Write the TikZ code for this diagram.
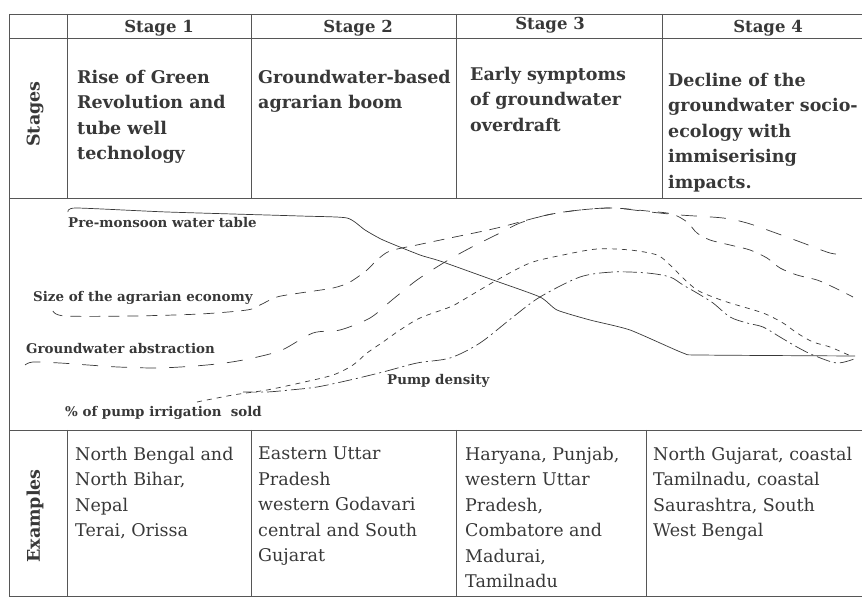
\documentclass[tikz,border=0pt]{standalone}
\usepackage{fontspec}
\setmainfont{DejaVu Serif}
\definecolor{ink}{gray}{0.22}

\begin{document}
\begin{tikzpicture}[x=1pt,y=-1pt,
    rule/.style={draw=ink!85,line width=0.9pt},
    curve/.style={draw=ink,line width=0.7pt},
    head/.style={font=\bfseries\fontsize{16.5}{18}\selectfont,text=ink,inner sep=0pt,anchor=base},
    stagetext/.style={font=\bfseries\fontsize{17.5}{25.5}\selectfont,text=ink,align=left,anchor=north west,inner sep=0pt},
    exampletext/.style={font=\fontsize{17.5}{25.4}\selectfont,text=ink,align=left,anchor=north west,inner sep=0pt},
    curvelabel/.style={font=\bfseries\fontsize{13.4}{15}\selectfont,text=ink,anchor=base west,inner sep=0pt},
    side/.style={font=\bfseries\fontsize{17.5}{19}\selectfont,text=ink,rotate=90,inner sep=0pt}]
    \useasboundingbox (0,0) rectangle (863,601);
    %
    \draw[rule] (9,14) -- (862,14) (9,38) -- (862,38) (9,198) -- (862,198)
        (9,430) -- (862,430) (9,596) -- (862,596);
    \draw[rule] (9,14) -- (9,596);
    \foreach \x in {67,251,456,662} \draw[rule] (\x,14) -- (\x,198);
    \foreach \x in {67,251,456,646} \draw[rule] (\x,430) -- (\x,596);
    %
    \node[head] (h1) at (159,33) {Stage 1};
    \node[head] (h2) at (358,33) {Stage 2};
    \node[head] (h3) at (550,30) {Stage 3};
    \node[head] (h4) at (768,33) {Stage 4};
    \node[side] (stages) at (35,114) {Stages};
    \node[side] (examples) at (35,516) {Examples};
    %
    \node[stagetext] (t1) at (77,70) {Rise of Green\\Revolution and\\tube well\\technology};
    \node[stagetext] (t2) at (258,70) {Groundwater-based\\agrarian boom};
    \node[stagetext] (t3) at (470,67) {Early symptoms\\of groundwater\\overdraft};
    \node[stagetext] (t4) at (668,73) {Decline of the\\groundwater socio-\\ecology with\\immiserising\\impacts.};
    %
    \node[exampletext] (e1) at (75,447) {North Bengal and\\North Bihar,\\Nepal\\Terai, Orissa};
    \node[exampletext] (e2) at (258,447) {Eastern Uttar\\Pradesh\\western Godavari\\central and South\\Gujarat};
    \node[exampletext] (e3) at (465,447) {Haryana, Punjab,\\western Uttar\\Pradesh,\\Combatore and\\Madurai,\\Tamilnadu};
    \node[exampletext] (e4) at (653,447) {North Gujarat, coastal\\Tamilnadu, coastal\\Saurashtra, South\\West Bengal};
    %
    \draw[curve] plot[smooth,tension=0.35] coordinates {(68,212) (76,208) (167,212) (300,216)
        (347,218) (365,230) (383,240) (420,255) (440,261) (493,280) (540,297) (557,310) (590,320)
        (630,330) (683,353) (700,355) (855,356)};
    \draw[curve,dash pattern=on 11pt off 8pt] plot[smooth,tension=0.5] coordinates {(53,311) (65,316)
        (133,316) (200,314) (247,310) (260,305) (277,297) (300,293) (333,288) (350,282) (367,270)
        (377,260) (390,251) (417,245) (450,238) (497,228) (547,215) (580,210) (613,208) (647,211)
        (672,214) (687,222) (697,233) (710,240) (730,245) (750,250) (767,258) (780,268) (797,275)
        (817,280) (833,287) (853,297)};
    \draw[curve,dash pattern=on 16pt off 13pt] plot[smooth,tension=0.5] coordinates {(25,365) (33,362)
        (60,363) (88,365) (118,367) (158,368) (195,366) (225,363) (253,358) (282,350) (313,333)
        (340,330) (370,318) (392,300) (417,280) (445,262) (470,248) (500,233) (520,223) (547,215)
        (580,210) (613,208) (650,212) (680,215) (723,218) (747,223) (773,232) (803,243) (830,253)
        (847,255)};
    \draw[curve,dash pattern=on 5pt off 5pt] plot[smooth,tension=0.5] coordinates {(197,402) (233,395)
        (267,390) (300,383) (333,375) (353,365) (367,353) (383,342) (400,330) (420,318) (450,307)
        (463,300) (497,280) (530,263) (563,255) (597,249) (630,250) (657,255) (670,265) (683,278)
        (697,290) (713,297) (730,303) (763,313) (783,323) (797,333) (813,342) (830,347) (853,357)};
    \draw[curve,dash pattern=on 14pt off 4pt on 2pt off 4pt] plot[smooth,tension=0.5] coordinates {(243,392)
        (267,392) (290,390) (317,387) (350,380) (383,372) (417,363) (450,358) (480,343) (513,317)
        (540,297) (580,277) (613,272) (647,273) (670,277) (683,285) (697,293) (713,303) (730,317)
        (747,323) (763,327) (780,337) (797,347) (813,355) (837,363) (857,358)};
    %
    \node[curvelabel] (wt) at (68,228) {Pre-monsoon water table};
    \node[curvelabel] (se) at (33,302) {Size of the agrarian economy};
    \node[curvelabel] (ga) at (26,354) {Groundwater abstraction};
    \node[curvelabel] (pd) at (387,385) {Pump density};
    \node[curvelabel] (ps) at (65,417) {\% of pump irrigation\ \ sold};
\end{tikzpicture}
\end{document}
